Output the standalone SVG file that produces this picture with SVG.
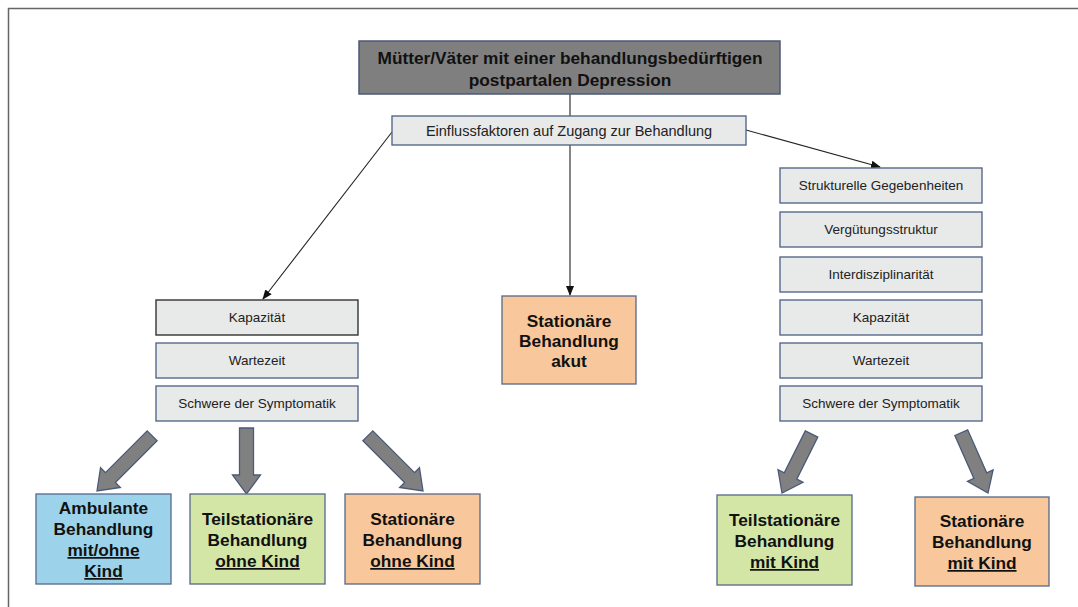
<svg xmlns="http://www.w3.org/2000/svg" width="1078" height="607" viewBox="0 0 1078 607">
<defs>
<style>
.t{font-family:"Liberation Sans",Arial,sans-serif;text-anchor:middle}
.f{fill:#e8e9e9;stroke:#56688a;stroke-width:1.4}
.s{font-size:13.5px;fill:#222}
.b{font-size:17.3px;font-weight:bold;fill:#111}
.u{text-decoration:underline}
.ba{fill:#808080;stroke:#4b5a78;stroke-width:1.3}
.c{stroke:#222;stroke-width:1.1;fill:none}
</style>
<marker id="ah" markerWidth="10" markerHeight="8" refX="9" refY="4" orient="auto" markerUnits="userSpaceOnUse">
<path d="M0,0 L10,4 L0,8 Z" fill="#111"/>
</marker>
<polygon id="ar78" points="-7,-78 7,-78 7,-19 14,-19 0,0 -14,-19 -7,-19"/>
<polygon id="ar66" points="-7,-66 7,-66 7,-19 14,-19 0,0 -14,-19 -7,-19"/>
</defs>
<rect width="1078" height="607" fill="#fff"/>
<path d="M8.5,607 V8.5 H1078" stroke="#666" stroke-width="1.5" fill="none"/>

<g id="connectors">
<line class="c" x1="570" y1="94" x2="570" y2="116"/>
<line class="c" x1="392" y1="132" x2="263" y2="299" marker-end="url(#ah)"/>
<line class="c" x1="570" y1="145" x2="570" y2="295" marker-end="url(#ah)"/>
<line class="c" x1="746" y1="130" x2="880" y2="167" marker-end="url(#ah)"/>
<use href="#ar78" class="ba" transform="translate(97,491) rotate(45)"/>
<use href="#ar66" class="ba" transform="translate(246.5,494)"/>
<use href="#ar78" class="ba" transform="translate(423,491) rotate(-45)"/>
<use href="#ar66" class="ba" transform="translate(782,493) rotate(26.6)"/>
<use href="#ar66" class="ba" transform="translate(988,493) rotate(-23.9)"/>
</g>

<g id="title">
<rect x="359" y="41" width="421" height="53" fill="#7f7f7f" stroke="#4b5a78" stroke-width="1.5"/>
<text class="t b" x="570" y="64">Mütter/Väter mit einer behandlungsbedürftigen</text>
<text class="t b" x="570" y="86">postpartalen Depression</text>
</g>

<g id="einfluss">
<rect class="f" x="392" y="116" width="354" height="29"/>
<text class="t" style="font-size:14.5px;fill:#222" x="569" y="136">Einflussfaktoren auf Zugang zur Behandlung</text>
</g>

<g id="left-kapazitaet">
<rect class="f" x="156" y="300" width="202" height="35" style="stroke:#333"/>
<text class="t s" x="257" y="322">Kapazität</text>
</g>
<g id="left-wartezeit">
<rect class="f" x="156" y="343" width="202" height="35"/>
<text class="t s" x="257" y="365">Wartezeit</text>
</g>
<g id="left-schwere">
<rect class="f" x="156" y="386" width="202" height="35"/>
<text class="t s" x="257" y="408">Schwere der Symptomatik</text>
</g>

<g id="akut">
<rect x="502" y="296" width="134" height="88" fill="#f8c79b" stroke="#56688a" stroke-width="1.3"/>
<text class="t b" x="569" y="327">Stationäre</text>
<text class="t b" x="569" y="347">Behandlung</text>
<text class="t b" x="569" y="367">akut</text>
</g>

<g id="right-struktur">
<rect class="f" x="780" y="168" width="202" height="35"/>
<text class="t s" x="881" y="190">Strukturelle  Gegebenheiten</text>
</g>
<g id="right-verguetung">
<rect class="f" x="780" y="212" width="202" height="35"/>
<text class="t s" x="881" y="234">Vergütungsstruktur</text>
</g>
<g id="right-interdisz">
<rect class="f" x="780" y="257" width="202" height="35"/>
<text class="t s" x="881" y="279">Interdisziplinarität</text>
</g>
<g id="right-kapazitaet">
<rect class="f" x="780" y="300" width="202" height="35"/>
<text class="t s" x="881" y="322">Kapazität</text>
</g>
<g id="right-wartezeit">
<rect class="f" x="780" y="343" width="202" height="35"/>
<text class="t s" x="881" y="365">Wartezeit</text>
</g>
<g id="right-schwere">
<rect class="f" x="780" y="386" width="202" height="35"/>
<text class="t s" x="881" y="408">Schwere der Symptomatik</text>
</g>

<g id="ambulant">
<rect x="36" y="494" width="135" height="90" fill="#9dd3ea" stroke="#56688a" stroke-width="1.3"/>
<text class="t b" x="103.5" y="514">Ambulante</text>
<text class="t b" x="103.5" y="535">Behandlung</text>
<text class="t b" x="103.5" y="556"><tspan class="u">mit/ohne</tspan></text>
<text class="t b" x="103.5" y="577"><tspan class="u">Kind</tspan></text>
</g>

<g id="teil-ohne">
<rect x="190" y="494" width="135" height="90" fill="#d3e6a6" stroke="#56688a" stroke-width="1.3"/>
<text class="t b" x="257.5" y="525">Teilstationäre</text>
<text class="t b" x="257.5" y="546">Behandlung</text>
<text class="t b" x="257.5" y="567"><tspan class="u">ohne Kind</tspan></text>
</g>

<g id="stat-ohne">
<rect x="345" y="494" width="135" height="90" fill="#f8c79b" stroke="#56688a" stroke-width="1.3"/>
<text class="t b" x="412.5" y="525">Stationäre</text>
<text class="t b" x="412.5" y="546">Behandlung</text>
<text class="t b" x="412.5" y="567"><tspan class="u">ohne Kind</tspan></text>
</g>

<g id="teil-mit">
<rect x="717" y="495" width="135" height="90" fill="#d3e6a6" stroke="#56688a" stroke-width="1.3"/>
<text class="t b" x="784.5" y="526">Teilstationäre</text>
<text class="t b" x="784.5" y="547">Behandlung</text>
<text class="t b" x="784.5" y="568"><tspan class="u">mit Kind</tspan></text>
</g>

<g id="stat-mit">
<rect x="915" y="497" width="134" height="89" fill="#f8c79b" stroke="#56688a" stroke-width="1.3"/>
<text class="t b" x="982" y="527">Stationäre</text>
<text class="t b" x="982" y="548">Behandlung</text>
<text class="t b" x="982" y="569"><tspan class="u">mit Kind</tspan></text>
</g>
</svg>
